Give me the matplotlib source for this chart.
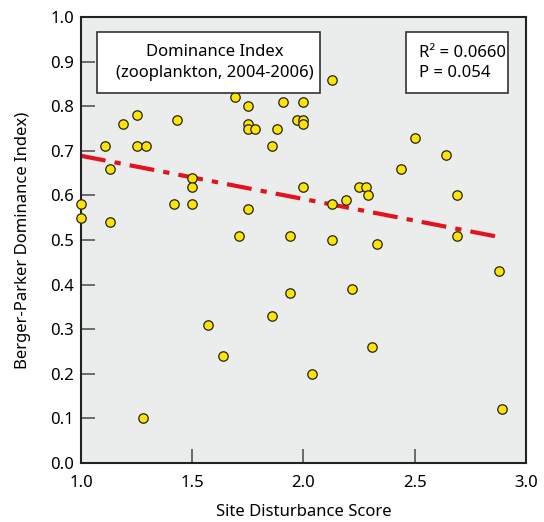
import matplotlib
matplotlib.use("Agg")
import matplotlib.pyplot as plt
from matplotlib.patches import Rectangle
import numpy as np

plt.rcParams['font.family'] = ['Noto Sans', 'DejaVu Sans']

site_score = [1.00, 1.00, 1.11, 1.13, 1.13, 1.19, 1.25, 1.25, 1.29, 1.43,
              1.42, 1.50, 1.50, 1.50, 1.69, 1.75, 1.75, 1.75, 1.78, 1.75,
              1.71, 1.91, 1.88, 1.86, 1.97, 2.00, 2.00, 2.00, 2.00, 1.94,
              2.13, 2.50, 2.64, 2.44, 2.25, 2.28, 2.29, 2.19, 2.13, 2.69,
              2.69, 2.13, 1.94, 1.86, 1.57, 1.64, 2.04, 1.28, 2.33, 2.88,
              2.22, 2.31, 2.89]
dominance = [0.58, 0.55, 0.71, 0.66, 0.54, 0.76, 0.78, 0.71, 0.71, 0.77,
             0.58, 0.64, 0.62, 0.58, 0.82, 0.80, 0.76, 0.75, 0.75, 0.57,
             0.51, 0.81, 0.75, 0.71, 0.77, 0.81, 0.77, 0.76, 0.62, 0.51,
             0.86, 0.73, 0.69, 0.66, 0.62, 0.62, 0.60, 0.59, 0.58, 0.60,
             0.51, 0.50, 0.38, 0.33, 0.31, 0.24, 0.20, 0.10, 0.49, 0.43,
             0.39, 0.26, 0.12]

fit_intercept = 0.786
fit_slope = -0.097
fit_range = [1.0, 2.89]

x_ticks = [1.0, 1.5, 2.0, 2.5, 3.0]
y_ticks = [0.0, 0.1, 0.2, 0.3, 0.4, 0.5, 0.6, 0.7, 0.8, 0.9, 1.0]

fig = plt.figure(figsize=(5.44, 5.22), dpi=100)
ax = fig.add_axes([0.1489, 0.1136, 0.8180, 0.8533])
ax.set_facecolor('#EBECEC')

fx = np.array(fit_range)
ax.plot(fx, fit_intercept + fit_slope * fx, color='#E3121F', lw=3,
        dashes=(6, 2.2, 1.5, 2.2), zorder=2)
ax.scatter(site_score, dominance, s=46, c='#FFE400', edgecolors='#222222',
           linewidths=0.9, zorder=3, clip_on=False)

ax.set_xlim(1.0, 3.0)
ax.set_ylim(0.0, 1.0)
ax.set_xticks(x_ticks)
ax.set_xticklabels([f"{v:.1f}" for v in x_ticks])
ax.set_yticks(y_ticks)
ax.set_yticklabels([f"{v:.1f}" for v in y_ticks])
ax.tick_params(direction='in', length=10, width=1.2, color='#555555',
               labelsize=12)
ax.tick_params(axis='x', pad=9)
ax.tick_params(axis='y', pad=5)
for s in ax.spines.values():
    s.set_linewidth(1.5)
    s.set_color('#222222')

ax.set_xlabel('Site Disturbance Score', fontsize=12, labelpad=9)
ax.set_ylabel('Berger-Parker Dominance Index)', fontsize=12, labelpad=14)

ax.add_patch(Rectangle((0.036, 0.830), 0.501, 0.137, transform=ax.transAxes,
                       fc='white', ec='#333333', lw=1.2, zorder=4))
ax.text(0.300, 0.8985, 'Dominance Index\n(zooplankton, 2004-2006)',
        transform=ax.transAxes, ha='center', va='center', fontsize=12,
        linespacing=1.35, zorder=5)
ax.add_patch(Rectangle((0.730, 0.830), 0.230, 0.137, transform=ax.transAxes,
                       fc='white', ec='#333333', lw=1.2, zorder=4))
ax.text(0.760, 0.8965, 'R\u00b2 = 0.0660\nP = 0.054',
        transform=ax.transAxes, ha='left', va='center', fontsize=12,
        linespacing=1.35, zorder=5)

fig.savefig('out.png', dpi=100)
